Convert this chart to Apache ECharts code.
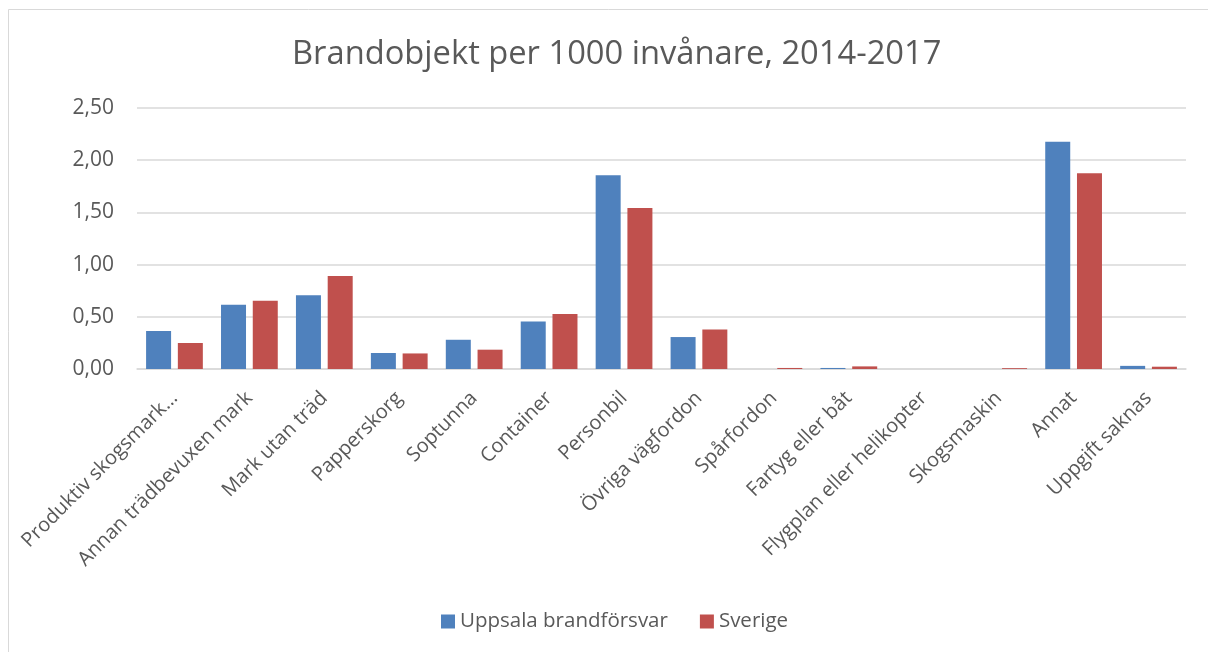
<!DOCTYPE html>
<html>
<head>
<meta charset="utf-8">
<script src="https://cdn.jsdelivr.net/npm/echarts@6/dist/echarts.min.js"></script>
<style>
  html, body { margin: 0; padding: 0; background: #ffffff; }
  #chart { width: 1208px; height: 652px; }
</style>
</head>
<body>
<div id="chart"></div>
<script>
// Brandobjekt per 1000 invånare, 2014-2017
const categories = [
  'Produktiv skogsmark…', 'Annan trädbevuxen mark', 'Mark utan träd', 'Papperskorg',
  'Soptunna', 'Container', 'Personbil', 'Övriga vägfordon', 'Spårfordon',
  'Fartyg eller båt', 'Flygplan eller helikopter', 'Skogsmaskin', 'Annat', 'Uppgift saknas'
];
const uppsala = [0.363, 0.615, 0.707, 0.153, 0.28, 0.455, 1.855, 0.306, 0, 0.01, 0, 0, 2.176, 0.03];
const sverige = [0.249, 0.653, 0.892, 0.149, 0.185, 0.526, 1.542, 0.379, 0.01, 0.025, 0, 0.008, 1.874, 0.022];
const seriesNames = ['Uppsala brandförsvar', 'Sverige'];

const FONT = '"Open Sans", "Noto Sans", sans-serif';
const TEXT = '#595959';

const chart = echarts.init(document.getElementById('chart'), null, { renderer: 'canvas' });
chart.setOption({
  backgroundColor: '#ffffff',
  animation: false,
  title: {
    text: 'Brandobjekt per 1000 invånare, 2014-2017',
    left: 287,
    top: 33,
    textStyle: { fontFamily: FONT, fontSize: 32.7, fontWeight: 'normal', color: TEXT }
  },
  graphic: [{
    type: 'rect',
    shape: { x: 8.5, y: 9.5, width: 1210, height: 660 },
    style: { fill: 'none', stroke: '#D9D9D9', lineWidth: 1 },
    silent: true
  }],
  legend: {
    data: seriesNames,
    bottom: 15,
    left: 436,
    itemWidth: 14,
    itemHeight: 14,
    itemGap: 32,
    icon: 'rect',
    textStyle: { fontFamily: FONT, fontSize: 20.5, color: TEXT }
  },
  grid: { left: 137, right: 22, top: 108, bottom: 283, containLabel: false },
  xAxis: {
    type: 'category',
    data: categories,
    axisLine: { lineStyle: { color: '#D9D9D9', width: 1.5 } },
    axisTick: { show: false },
    axisLabel: {
      rotate: 45,
      interval: 0,
      margin: 26,
      fontFamily: FONT,
      fontSize: 20,
      color: TEXT
    }
  },
  yAxis: {
    type: 'value',
    min: 0,
    max: 2.5,
    interval: 0.5,
    axisLine: { show: false },
    axisTick: { show: false },
    splitLine: { lineStyle: { color: '#D9D9D9', width: 1.5 } },
    axisLabel: {
      margin: 23,
      fontFamily: FONT,
      fontSize: 21,
      color: TEXT,
      formatter: v => v.toFixed(2).replace('.', ',')
    }
  },
  series: [
    {
      name: seriesNames[0],
      type: 'bar',
      data: uppsala,
      barWidth: 25,
      barGap: '27%',
      itemStyle: { color: '#4F81BD' }
    },
    {
      name: seriesNames[1],
      type: 'bar',
      data: sverige,
      barWidth: 25,
      barGap: '27%',
      itemStyle: { color: '#C0504D' }
    }
  ]
});
</script>
</body>
</html>
